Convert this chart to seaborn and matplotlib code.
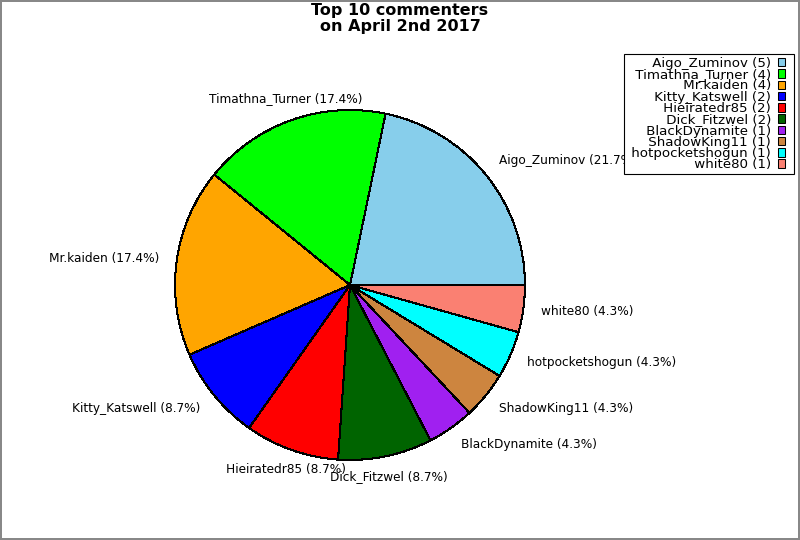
import matplotlib
matplotlib.use("Agg")
import matplotlib.pyplot as plt
import numpy as np
import seaborn as sns
from matplotlib.legend_handler import HandlerPatch
from matplotlib.patches import Rectangle

names = ["Aigo_Zuminov", "Timathna_Turner", "Mr.kaiden", "Kitty_Katswell",
         "Hieiratedr85", "Dick_Fitzwel", "BlackDynamite", "ShadowKing11",
         "hotpocketshogun", "white80"]
counts = [5, 4, 4, 2, 2, 2, 1, 1, 1, 1]
colors = ["#87ceeb", "#00ff00", "#ffa500", "#0000ff", "#ff0000",
          "#006400", "#a020f0", "#cd853f", "#00ffff", "#fa8072"]

sns.set_theme(style="white")
plt.rcParams["font.family"] = ["DejaVu Sans"]
plt.rcParams["text.color"] = "black"

total = sum(counts)
labels = [f"{n} ({c / total * 100:.1f}%)" for n, c in zip(names, counts)]

fig = plt.figure(figsize=(8, 5.4), dpi=100)
fig.patch.set_edgecolor("#888888")
fig.patch.set_linewidth(1.5)

ax = fig.add_axes([175 / 800, 80 / 540, 350 / 800, 350 / 540])
wedges, _ = ax.pie(
    counts,
    colors=colors,
    startangle=0,
    counterclock=True,
    wedgeprops={"edgecolor": "black", "linewidth": 0.75, "antialiased": False},
)
ax.set_xlim(-1, 1)
ax.set_ylim(-1, 1)
ax.set_aspect("equal")

# labels placed around each wedge's mid angle
for w, lab in zip(wedges, labels):
    ang = np.deg2rad((w.theta1 + w.theta2) / 2)
    c, s = np.cos(ang), np.sin(ang)
    x = 1.1 * c
    y = 1.1 * s + (0.03 * s if s > 0 else 0.018 * s)
    if abs(c) < 0.45:
        ha = "center"
    else:
        ha = "left" if c > 0 else "right"
    ax.text(x, y, lab, ha=ha, va="center", fontsize=8.7, color="black")

fig.suptitle("Top 10 commenters\non April 2nd 2017", fontsize=11.5,
             fontweight="bold", y=0.995, va="top", linespacing=1.12,
             color="black")


# small square swatch, leaving some room on its right inside the handle box
def small_square(legend, orig_handle, xdescent, ydescent, width, height, fontsize):
    return Rectangle((-xdescent, -ydescent), 0.52 * fontsize, height)


leg = fig.legend(
    wedges,
    [f" {n} ({c})" for n, c in zip(names, counts)],
    loc="upper right",
    bbox_to_anchor=(794 / 800, 1 - 54 / 540),
    borderaxespad=0,
    fontsize=9.6,
    markerfirst=False,
    labelspacing=-0.13,
    handlelength=0.95,
    handleheight=0.6,
    handletextpad=0.55,
    borderpad=0.22,
    fancybox=False,
    framealpha=1,
    edgecolor="black",
    handler_map={type(wedges[0]): HandlerPatch(patch_func=small_square)},
)
leg.get_frame().set_linewidth(0.8)
for t in leg.get_texts():
    t.set_color("black")
for h in leg.legend_handles:
    h.set_edgecolor("black")
    h.set_linewidth(0.75)

fig.savefig("out.png", dpi=100)
